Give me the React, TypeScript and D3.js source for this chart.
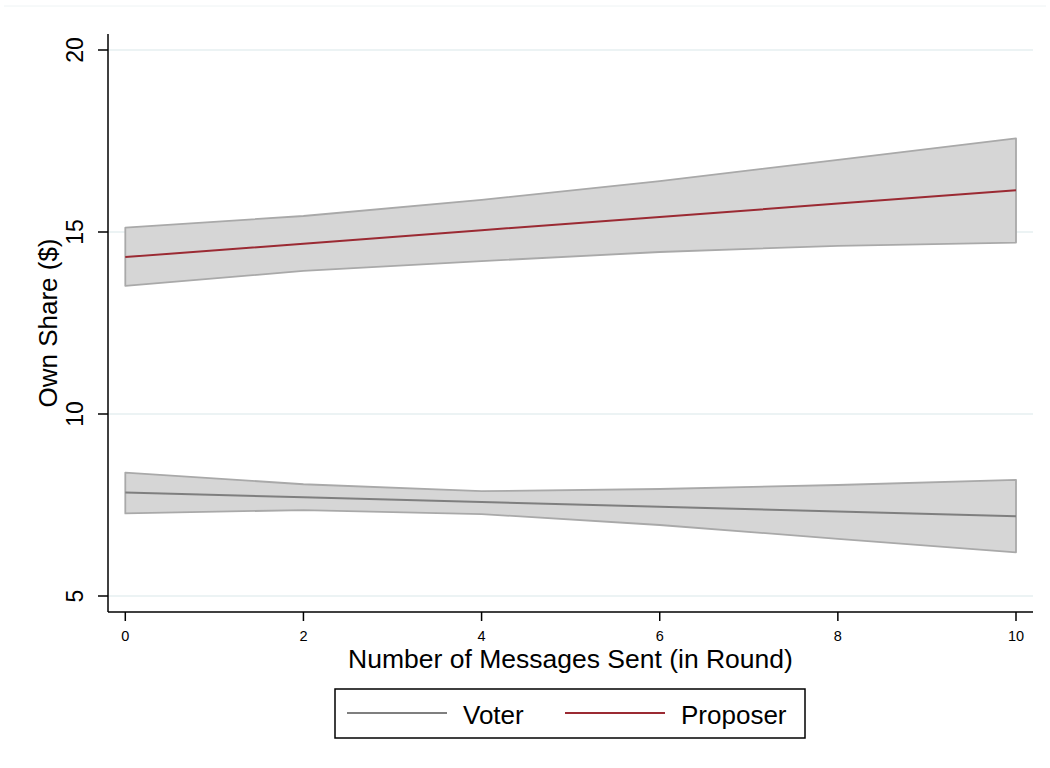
import React from "react";
import * as d3 from "d3";

// Number of messages sent (x) with predicted own share and 95% CI bands
const messages = [0, 2, 4, 6, 8, 10];

const proposerFit = [14.31, 14.68, 15.05, 15.41, 15.78, 16.15];
const proposerUpper = [15.12, 15.44, 15.88, 16.4, 16.98, 17.57];
const proposerLower = [13.52, 13.93, 14.2, 14.45, 14.62, 14.71];

const voterFit = [7.84, 7.71, 7.58, 7.45, 7.32, 7.19];
const voterUpper = [8.39, 8.07, 7.88, 7.94, 8.05, 8.19];
const voterLower = [7.27, 7.36, 7.25, 6.95, 6.57, 6.2];

const xTicks = [0, 2, 4, 6, 8, 10];
const yTicks = [5, 10, 15, 20];

const legendItems = [
  { label: "Voter", color: "#7f7f7f" },
  { label: "Proposer", color: "#9b2a33" },
];

const W = 1050;
const H = 768;
const FONT = "'Liberation Sans', Arial, Helvetica, sans-serif";

export default function App() {
  // Plot region
  const left = 108;
  const right = 1033;
  const top = 34;
  const bottom = 612;

  const x = d3.scaleLinear().domain([0, 10]).range([125.3, 1016]);
  const y = d3.scaleLinear().domain([5, 20]).range([596, 50]);

  const band = (lo: number[], hi: number[]) =>
    d3
      .area<number>()
      .x((d) => x(d))
      .y0((_, i) => y(lo[i]))
      .y1((_, i) => y(hi[i]))(messages) || "";

  const bandOutline = (lo: number[], hi: number[]) => {
    const pts: [number, number][] = [
      ...messages.map((m, i) => [x(m), y(hi[i])] as [number, number]),
      ...messages
        .map((m, i) => [x(m), y(lo[i])] as [number, number])
        .reverse(),
    ];
    return d3.line()(pts) + "Z";
  };

  const fitLine = (vals: number[]) =>
    d3
      .line<number>()
      .x((d) => x(d))
      .y((_, i) => y(vals[i]))(messages) || "";

  return (
    <svg
      width={W}
      height={H}
      style={{ position: "absolute", left: 0, top: 0, background: "#fff" }}
      fontFamily={FONT}
    >
      <rect x={0} y={0} width={W} height={H} fill="#fff" />
      {/* outer frame hint */}
      <line x1={4} x2={1046} y1={6} y2={6} stroke="#eef3f4" strokeWidth={1} />

      {/* gridlines */}
      {yTicks.map((t) => (
        <line
          key={"g" + t}
          x1={left}
          x2={right}
          y1={y(t)}
          y2={y(t)}
          stroke="#e6eff1"
          strokeWidth={1.5}
        />
      ))}

      {/* confidence bands */}
      <path d={band(proposerLower, proposerUpper)} fill="#d6d6d6" />
      <path d={band(voterLower, voterUpper)} fill="#d6d6d6" />
      <path
        d={bandOutline(proposerLower, proposerUpper)}
        fill="none"
        stroke="#a9a9a9"
        strokeWidth={1.8}
        strokeLinejoin="round"
      />
      <path
        d={bandOutline(voterLower, voterUpper)}
        fill="none"
        stroke="#a9a9a9"
        strokeWidth={1.8}
        strokeLinejoin="round"
      />

      {/* fitted lines */}
      <path d={fitLine(voterFit)} fill="none" stroke={legendItems[0].color} strokeWidth={2} />
      <path d={fitLine(proposerFit)} fill="none" stroke={legendItems[1].color} strokeWidth={2} />

      {/* axes */}
      <line x1={left} x2={left} y1={top} y2={bottom} stroke="#000" strokeWidth={1.5} />
      <line x1={left} x2={right} y1={bottom} y2={bottom} stroke="#000" strokeWidth={1.5} />

      {yTicks.map((t) => (
        <g key={"yt" + t}>
          <line x1={left - 10} x2={left} y1={y(t)} y2={y(t)} stroke="#000" strokeWidth={1.5} />
          <text
            transform={`translate(${83},${y(t)}) rotate(-90)`}
            textAnchor="middle"
            fontSize={23}
            fill="#000"
          >
            {t}
          </text>
        </g>
      ))}

      {xTicks.map((t) => (
        <g key={"xt" + t}>
          <line x1={x(t)} x2={x(t)} y1={bottom} y2={bottom + 9} stroke="#000" strokeWidth={1.5} />
          <text x={x(t)} y={641} textAnchor="middle" fontSize={14.5} fill="#000">
            {t}
          </text>
        </g>
      ))}

      {/* axis titles */}
      <text
        transform={`translate(${57},${323}) rotate(-90)`}
        textAnchor="middle"
        fontSize={26}
        fill="#000"
      >
        Own Share ($)
      </text>
      <text x={570.5} y={668} textAnchor="middle" fontSize={26.5} fill="#000">
        Number of Messages Sent (in Round)
      </text>

      {/* legend */}
      <rect x={335} y={689} width={470} height={49} fill="#fff" stroke="#000" strokeWidth={1.5} />
      <line x1={347} x2={447} y1={713} y2={713} stroke={legendItems[0].color} strokeWidth={2} />
      <text x={463} y={724} fontSize={26} fill="#000">
        {legendItems[0].label}
      </text>
      <line x1={565} x2={665} y1={713} y2={713} stroke={legendItems[1].color} strokeWidth={2} />
      <text x={681} y={724} fontSize={26} fill="#000">
        {legendItems[1].label}
      </text>
    </svg>
  );
}
